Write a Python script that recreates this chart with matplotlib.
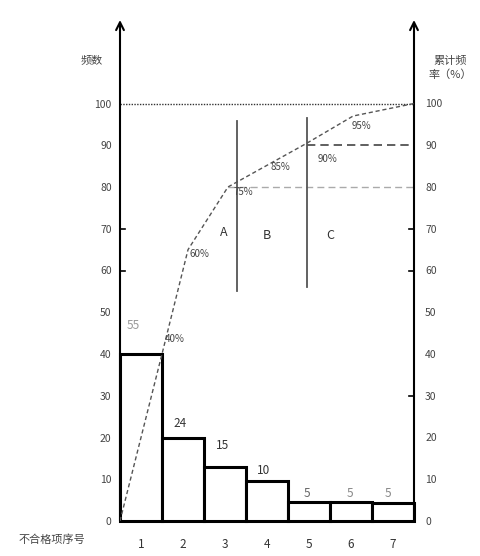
import matplotlib
matplotlib.use("Agg")
import matplotlib.pyplot as plt
import numpy as np

plt.rcParams['font.family'] = ['Noto Sans CJK SC', 'DejaVu Sans']

# ---- data ----
categories = ['1', '2', '3', '4', '5', '6', '7']
bar_values = [55, 24, 15, 10, 5, 5, 5]            # printed counts
bar_heights = [40, 20, 13, 9.5, 4.5, 4.5, 4.2]    # drawn heights on the chart
cum_x = [0, 1, 1.62, 2.57, 4.45, 5.55, 7]
cum_y = [0, 40, 65, 80, 90.5, 97, 100]
pct_labels = ['40%', '60%', '75%', '85%', '90%', '95%']
y_ticks = [0, 10, 20, 30, 40, 50, 60, 70, 80, 90, 100]
marked_ticks = [30, 60, 70]
zone_labels = ['A', 'B', 'C']

fig = plt.figure(figsize=(4.81, 5.56), dpi=100)
ax = fig.add_axes([120/481, 1-521/556, (414-120)/481, (521-20)/556])
ax.set_xlim(0, 7)
ax.set_ylim(0, 120)

x = np.arange(len(categories)) + 0.5
ax.bar(x, bar_heights, width=1.0, facecolor='white', edgecolor='black',
       linewidth=2.2, clip_on=False, zorder=3)

# cumulative curve
ax.plot(cum_x, cum_y, color='#555555', lw=1.0, ls=(0, (3, 2)), zorder=4)

# reference lines
ax.plot([0, 7], [100, 100], color='#333333', lw=1.0, ls=(0, (1, 1)), zorder=2)
ax.plot([cum_x[3], 7], [80, 80], color='#aaaaaa', lw=1.0, ls=(0, (5, 3)), zorder=2)
ax.plot([cum_x[4], 7], [90, 90], color='#444444', lw=1.2, ls=(0, (5, 3)), zorder=2)
ax.plot([2.79, 2.79], [55, 95.7], color='#555555', lw=1.3, zorder=2)
ax.plot([4.45, 4.45], [56, 96.6], color='#555555', lw=1.3, zorder=2)

# inward tick marks on both axes
for t in marked_ticks:
    ax.plot([0, 0.13], [t, t], color='black', lw=1.2, zorder=2)
    ax.plot([7 - 0.13, 7], [t, t], color='black', lw=1.2, zorder=2)

# percentage labels
pct_pos = [(1.31, 43.6), (1.9, 64), (2.93, 78.9), (3.81, 84.7), (4.95, 86.8), (5.76, 94.7)]
for lab, (px, py) in zip(pct_labels, pct_pos):
    ax.text(px, py, lab, fontsize=7, color='#444444', ha='center', va='center', zorder=5)

# bar value labels
val_pos = [(0.31, 46.8), (1.43, 23.3), (2.45, 18), (3.43, 12), (4.45, 6.7), (5.48, 6.7), (6.38, 6.7)]
val_col = ['#999999', '#333333', '#333333', '#333333', '#666666', '#888888', '#888888']
for v, (px, py), c in zip(bar_values, val_pos, val_col):
    ax.text(px, py, str(v), fontsize=8.5, color=c, ha='center', va='center', zorder=5)

# zone labels
for lab, (px, py) in zip(zone_labels, [(2.48, 69), (3.5, 68.5), (5.0, 68.5)]):
    ax.text(px, py, lab, fontsize=9, color='#333333', ha='center', va='center')

# axes styling
for s in ['top', 'left', 'right', 'bottom']:
    ax.spines[s].set_visible(False)
ax.set_xticks(x)
ax.set_xticklabels(categories, fontsize=8.5, color='#333333')
ax.tick_params(axis='x', length=0, pad=12)

ax.set_yticks(y_ticks)
ax.set_yticklabels([str(t) for t in y_ticks], fontsize=7.5, color='#444444')
ax.tick_params(axis='y', length=0, pad=6)

ax2 = ax.twinx()
ax2.set_ylim(0, 120)
for s in ['top', 'left', 'right', 'bottom']:
    ax2.spines[s].set_visible(False)
ax2.set_yticks(y_ticks)
ax2.set_yticklabels([str(t) for t in y_ticks], fontsize=7.5, color='#444444')
ax2.tick_params(axis='y', length=0, pad=8)

# arrowed axes
for xa in (0, 1):
    ax.annotate('', xy=(xa, 1.0), xytext=(xa, 0), xycoords='axes fraction',
                arrowprops=dict(arrowstyle='->', lw=1.5, color='black',
                                shrinkA=0, shrinkB=0, mutation_scale=14))

# axis titles
fig.text(92/481, 1-60/556, '频数', fontsize=8, color='#444444', ha='center', va='center')
fig.text(450/481, 1-68/556, '累计频\n率（%）', fontsize=8, color='#444444',
         ha='center', va='center', linespacing=1.3)
fig.text(52/481, 1-540/556, '不合格项序号', fontsize=8, color='#444444', ha='center', va='center')

fig.savefig('out.png', dpi=100, facecolor='white')
